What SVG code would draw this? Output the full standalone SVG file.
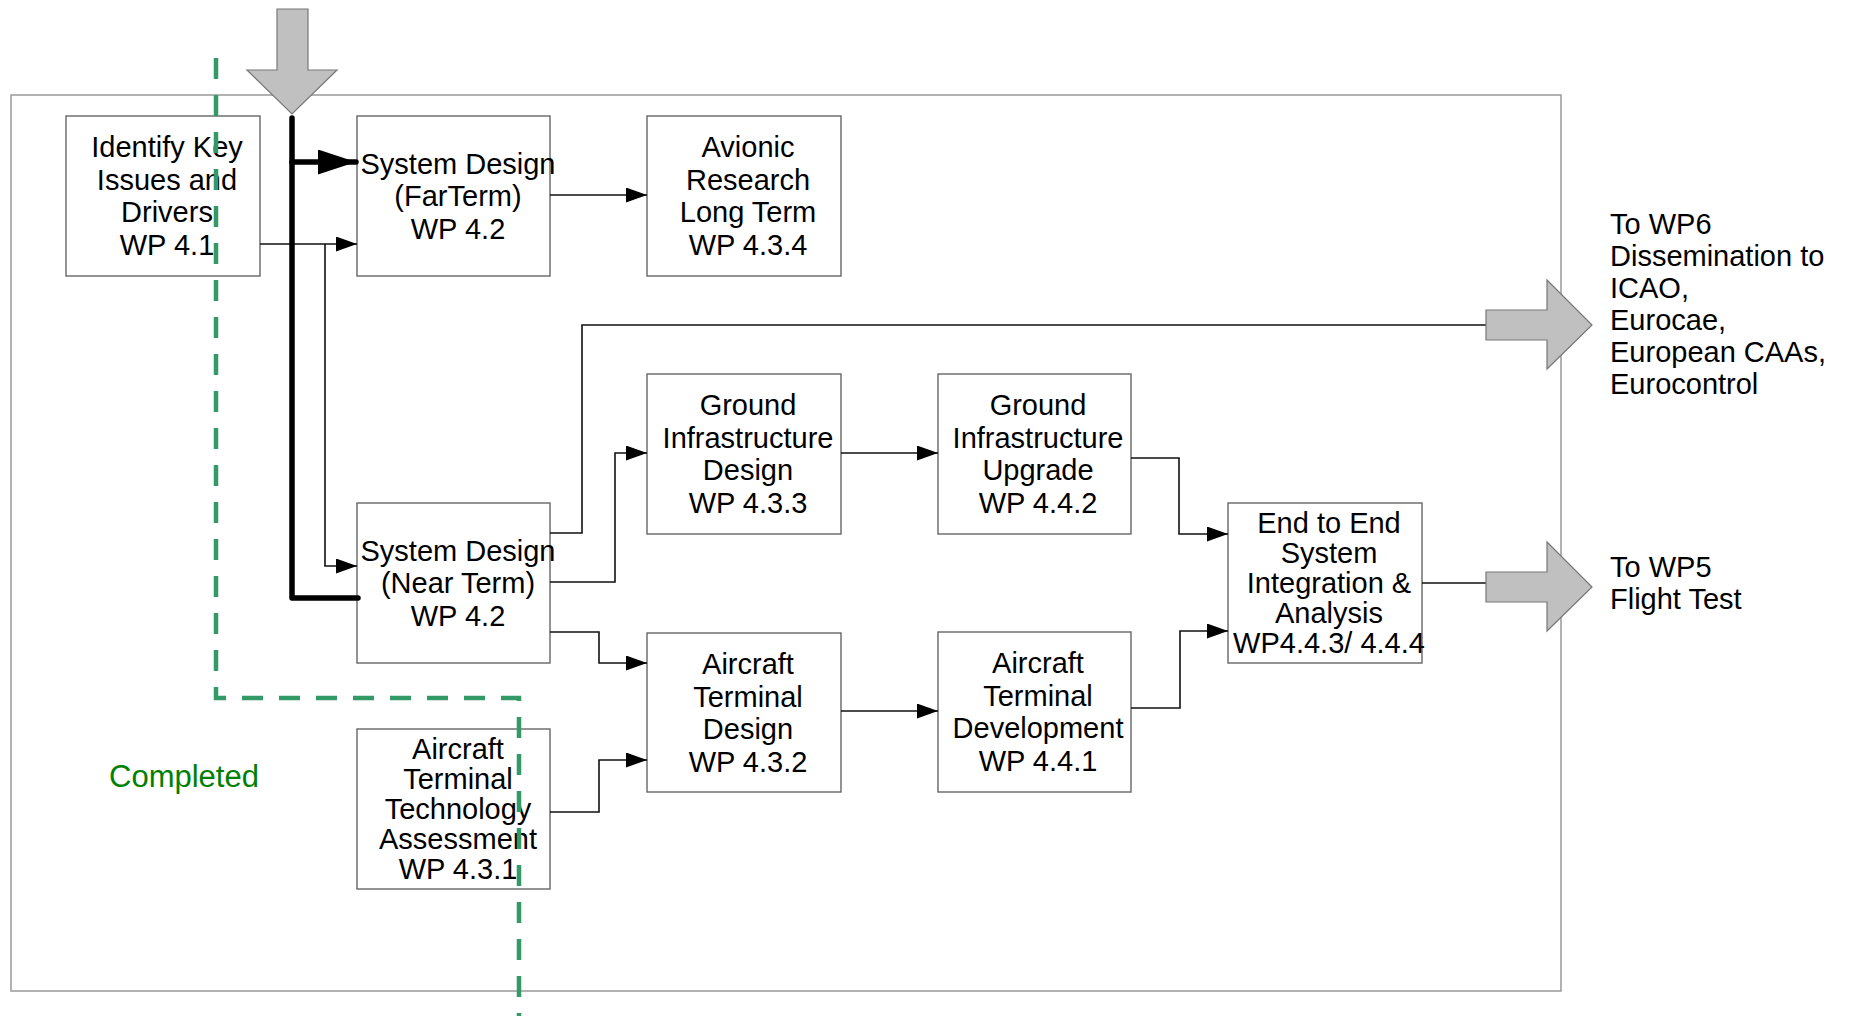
<svg xmlns="http://www.w3.org/2000/svg" width="1850" height="1016" viewBox="0 0 1850 1016">
<defs>
<style>
.box{fill:#fff;stroke:#666;stroke-width:1.4}
.t{font-family:"Liberation Sans",Arial,sans-serif;font-size:29px;fill:#000;text-anchor:middle}
.tl{font-family:"Liberation Sans",Arial,sans-serif;font-size:29px;fill:#000}
.c{fill:none;stroke:#111;stroke-width:1.6}
.thick{fill:none;stroke:#000;stroke-width:5.5;stroke-linecap:round;stroke-linejoin:round}
.big{fill:#c0c0c0;stroke:#777;stroke-width:1.2}
.green{fill:none;stroke:#339966;stroke-width:4.5;stroke-dasharray:21 16}
</style>
<marker id="ah" markerUnits="userSpaceOnUse" markerWidth="22" markerHeight="16" refX="21" refY="7.5" orient="auto">
<path d="M0,0 L21,7.5 L0,15 z" fill="#000"/>
</marker>
<marker id="ahb" markerUnits="userSpaceOnUse" markerWidth="40" markerHeight="26" refX="38" refY="12.5" orient="auto">
<path d="M0,0 L38,12.5 L0,25 z" fill="#000"/>
</marker>
</defs>
<rect width="1850" height="1016" fill="#fff"/>
<rect id="frame" x="11" y="95" width="1550" height="896" fill="none" stroke="#999" stroke-width="1.5"/>

<g id="input-arrow">
<polygon class="big" points="277,9 308,9 308,70 337,70 292,114 247,70 277,70"/>
</g>

<g id="n41"><rect class="box" x="66" y="116" width="194" height="160"/>
<text class="t" x="167" y="157">Identify Key</text><text class="t" x="167" y="189.5">Issues and</text><text class="t" x="167" y="222">Drivers</text><text class="t" x="167" y="254.5">WP 4.1</text></g>

<g id="n42far"><rect class="box" x="357" y="116" width="193" height="160"/>
<text class="t" x="458" y="173.5">System Design</text><text class="t" x="458" y="206">(FarTerm)</text><text class="t" x="458" y="238.5">WP 4.2</text></g>

<g id="n434"><rect class="box" x="647" y="116" width="194" height="160"/>
<text class="t" x="748" y="157">Avionic</text><text class="t" x="748" y="189.5">Research</text><text class="t" x="748" y="222">Long Term</text><text class="t" x="748" y="254.5">WP 4.3.4</text></g>

<g id="n433"><rect class="box" x="647" y="374" width="194" height="160"/>
<text class="t" x="748" y="415">Ground</text><text class="t" x="748" y="447.5">Infrastructure</text><text class="t" x="748" y="480">Design</text><text class="t" x="748" y="512.5">WP 4.3.3</text></g>

<g id="n442"><rect class="box" x="938" y="374" width="193" height="160"/>
<text class="t" x="1038" y="415">Ground</text><text class="t" x="1038" y="447.5">Infrastructure</text><text class="t" x="1038" y="480">Upgrade</text><text class="t" x="1038" y="512.5">WP 4.4.2</text></g>

<g id="n42near"><rect class="box" x="357" y="503" width="193" height="160"/>
<text class="t" x="458" y="560.5">System Design</text><text class="t" x="458" y="593">(Near Term)</text><text class="t" x="458" y="625.5">WP 4.2</text></g>

<g id="n432"><rect class="box" x="647" y="633" width="194" height="159"/>
<text class="t" x="748" y="674">Aircraft</text><text class="t" x="748" y="706.5">Terminal</text><text class="t" x="748" y="739">Design</text><text class="t" x="748" y="771.5">WP 4.3.2</text></g>

<g id="n441"><rect class="box" x="938" y="632" width="193" height="160"/>
<text class="t" x="1038" y="673">Aircraft</text><text class="t" x="1038" y="705.5">Terminal</text><text class="t" x="1038" y="738">Development</text><text class="t" x="1038" y="770.5">WP 4.4.1</text></g>

<g id="n431"><rect class="box" x="357" y="729" width="193" height="160"/>
<text class="t" x="458" y="759">Aircraft</text><text class="t" x="458" y="789">Terminal</text><text class="t" x="458" y="819">Technology</text><text class="t" x="458" y="849">Assessment</text><text class="t" x="458" y="879">WP 4.3.1</text></g>

<g id="n443"><rect class="box" x="1228" y="503" width="194" height="160"/>
<text class="t" x="1329" y="533">End to End</text><text class="t" x="1329" y="563">System</text><text class="t" x="1329" y="593">Integration &amp;</text><text class="t" x="1329" y="623">Analysis</text><text class="t" x="1329" y="653">WP4.4.3/ 4.4.4</text></g>

<g id="connectors">
<path class="c" d="M260,244 H357" marker-end="url(#ah)"/>
<path class="c" d="M325,244 V566 H357" marker-end="url(#ah)"/>
<path class="c" d="M550,195 H647" marker-end="url(#ah)"/>
<path class="c" d="M550,533 H582 V325 H1486"/>
<path class="c" d="M550,582 H615 V453 H647" marker-end="url(#ah)"/>
<path class="c" d="M550,632 H599 V663 H647" marker-end="url(#ah)"/>
<path class="c" d="M550,812 H599 V760 H647" marker-end="url(#ah)"/>
<path class="c" d="M841,453 H938" marker-end="url(#ah)"/>
<path class="c" d="M841,711 H938" marker-end="url(#ah)"/>
<path class="c" d="M1131,458 H1179 V534 H1228" marker-end="url(#ah)"/>
<path class="c" d="M1131,708 H1180 V631 H1228" marker-end="url(#ah)"/>
<path class="c" d="M1422,583 H1486"/>
<path class="thick" d="M292,118 V598 H358"/>
<path class="thick" d="M292,162 H356" marker-end="url(#ahb)"/>
</g>

<g id="output-wp6">
<polygon class="big" points="1486,310 1547,310 1547,280 1592,325 1547,369 1547,340 1486,340"/>
<text class="tl" x="1610" y="234">To WP6</text><text class="tl" x="1610" y="266">Dissemination to</text><text class="tl" x="1610" y="298">ICAO,</text><text class="tl" x="1610" y="330">Eurocae,</text><text class="tl" x="1610" y="362">European CAAs,</text><text class="tl" x="1610" y="394">Eurocontrol</text>
</g>
<g id="output-wp5">
<polygon class="big" points="1486,572 1547,572 1547,542 1592,587 1547,631 1547,602 1486,602"/>
<text class="tl" x="1610" y="577">To WP5</text><text class="tl" x="1610" y="609">Flight Test</text>
</g>

<g id="completed">
<path class="green" d="M216,58 V698 H519 V1016"/>
<text x="184" y="787" font-family="Liberation Sans, Arial, sans-serif" font-size="31" fill="#008000" text-anchor="middle">Completed</text>
</g>
</svg>
